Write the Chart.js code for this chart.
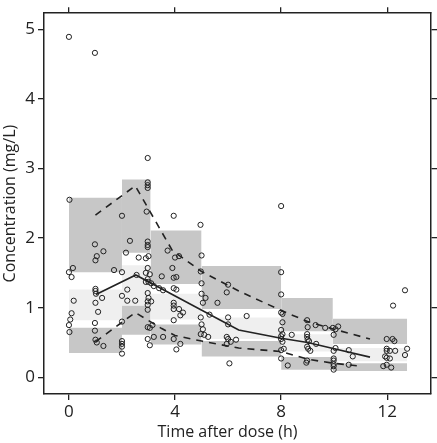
<!DOCTYPE html>
<html><head><meta charset="utf-8">
<script src="https://cdn.jsdelivr.net/npm/chart.js@4/dist/chart.umd.min.js"></script>
<style>html,body{margin:0;padding:0;background:#fff}#wrap{width:437px;height:443px}</style>
</head><body><div id="wrap"><canvas id="c" width="437" height="443"></canvas></div>
<script>
// ---- data ----
const xTicks = [0, 4, 8, 12];
const yTicks = [0, 1, 2, 3, 4, 5];
const binEdges = [0, 2, 3.08, 5.0, 8.0, 9.95, 12.75];
const upperHi = [2.58, 2.84, 2.11, 1.60, 1.14, 0.84];
const upperLo = [1.51, 1.79, 1.34, 0.98, 0.66, 0.48];
const midHi   = [1.26, 1.61, 1.20, 0.86, 0.62, 0.42];
const midLo   = [0.82, 1.03, 0.83, 0.55, 0.37, 0.23];
const lowHi   = [0.71, 1.03, 0.76, 0.52, 0.29, 0.20];
const lowLo   = [0.35, 0.61, 0.47, 0.30, 0.11, 0.09];

const medianTime = [1.02, 2.52, 6.4, 8.0, 9.0, 10.0, 11.35];
const medianConc = [1.19, 1.47, 0.68, 0.56, 0.50, 0.41, 0.29];
const p95Time = [1.0, 2.5, 3.9, 5.0, 6.4, 8.0, 9.0, 10.0, 11.35];
const p95Conc = [2.33, 2.75, 1.82, 1.52, 1.24, 0.96, 0.80, 0.69, 0.55];
const p5Time = [1.0, 2.5, 3.5, 4.0, 5.0, 6.4, 8.0, 9.0, 10.0, 11.0];
const p5Conc = [0.51, 0.93, 0.70, 0.60, 0.52, 0.42, 0.37, 0.26, 0.20, 0.16];

const obsTime = [
 0,0.02,0.15,0,0.1,0.18,0.1,0.05,0,0.02,
 0.98,0.98,1.05,1,1.3,1,1,1.02,1.25,1,1.1,0.98,0.98,1,1.05,1.3,
 1.7,2,2,2.15,2.3,2.63,2.9,2.55,2.2,2,2.2,2.5,2,2,2,2,2,
 2.97,2.97,2.97,2.97,2.93,2.97,2.97,2.97,3.0,2.97,2.9,3.05,2.97,2.9,3.0,3.1,3.2,3.4,3.55,2.97,3.0,2.97,3.1,2.97,2.97,2.97,3.05,3.15,2.97,3.05,3.2,3.55,3.5,
 3.95,3.72,4.0,4.15,3.9,3.95,4.05,3.95,4.05,3.95,3.95,3.95,4.15,4.3,4.2,3.95,3.95,4.05,4.2,
 4.96,5.0,4.97,5.0,5.0,5.15,5.05,5.3,4.97,5.0,5.05,4.97,5.1,5.25,
 5.6,6.0,5.95,6.0,6.0,5.95,6.0,6.1,6.3,5.95,6.05,6.7,
 8.0,8.0,8.0,8.0,8.05,8.05,8.0,8.05,8.0,8.0,8.05,8.0,8.1,8.0,8.25,8.4,
 8.98,9.0,8.98,8.98,9.0,9.05,9.3,8.98,9.02,9.1,8.98,8.95,9.32,9.66,
 9.95,10.05,10.15,9.98,10.05,9.98,9.98,9.98,9.98,9.98,9.98,10.55,10.7,10.55,
 12.67,12.22,11.98,12.2,12.27,11.98,12.1,11.98,12.3,12.75,12.67,11.92,11.98,12.1,11.85,11.98,12.15
];
const obsConc = [
 4.89,2.55,1.57,1.51,1.44,1.10,0.92,0.83,0.75,0.65,
 4.66,1.91,1.74,1.68,1.81,1.27,1.24,1.20,1.14,1.07,0.94,0.78,0.67,0.54,0.50,0.45,
 1.54,1.51,2.32,1.79,1.96,1.72,1.71,1.47,1.26,1.17,1.10,1.10,0.80,0.52,0.48,0.44,0.34,
 3.15,2.80,2.76,2.72,2.38,1.95,1.90,1.87,1.74,1.57,1.50,1.48,1.41,1.37,1.37,1.35,1.31,1.28,1.25,1.21,1.14,1.09,1.09,1.04,0.97,0.72,0.71,0.75,0.55,0.46,0.58,0.58,1.45,
 2.32,1.82,1.72,1.74,1.57,1.43,1.44,1.28,1.26,1.07,1.03,0.98,0.98,0.93,0.89,0.82,0.55,0.40,0.48,
 2.19,1.75,1.52,1.35,1.20,1.14,1.07,0.90,0.86,0.76,0.69,0.62,0.61,0.58,
 1.07,1.33,1.22,0.86,0.76,0.58,0.55,0.51,0.54,0.48,0.20,0.88,
 2.46,1.51,1.19,0.93,0.91,0.79,0.68,0.62,0.59,0.55,0.51,0.39,0.41,0.27,0.17,0.61,
 0.82,0.72,0.62,0.58,0.54,0.52,0.75,0.44,0.41,0.38,0.24,0.21,0.48,0.71,
 0.71,0.69,0.73,0.61,0.42,0.38,0.27,0.24,0.19,0.16,0.11,0.39,0.30,0.18,
 1.25,1.03,0.55,0.55,0.52,0.41,0.38,0.38,0.38,0.41,0.32,0.30,0.28,0.27,0.16,0.18,0.14
];
const xTitle = 'Time after dose (h)';
const yTitle = 'Concentration (mg/L)';

// ---- styling ----
const DARK = '#c7c7c7', LIGHT = '#efefef', INK = '#222';
const FONT = '"Open Sans", "DejaVu Sans", sans-serif';
const X_MIN = -0.94, X_MAX = 13.65, Y_MIN = -0.24, Y_MAX = 5.23;

const zip = (xs, ys) => xs.map((x, i) => ({x, y: ys[i]}));

const datasets = [];
datasets.push({
  label: 'obs', data: zip(obsTime, obsConc), showLine: false, order: 0,
  pointRadius: 2.6, pointBorderWidth: 1, pointBorderColor: INK, pointBackgroundColor: 'rgba(255,255,255,0)', pointHoverRadius: 2.6
});
datasets.push({label: 'median', data: zip(medianTime, medianConc), borderColor: INK, borderWidth: 1.6, pointRadius: 0, fill: false, order: 1, tension: 0});
datasets.push({label: 'p95', data: zip(p95Time, p95Conc), borderColor: INK, borderWidth: 1.6, borderDash: [7, 6], pointRadius: 0, fill: false, order: 1, tension: 0});
datasets.push({label: 'p5', data: zip(p5Time, p5Conc), borderColor: INK, borderWidth: 1.6, borderDash: [7, 6], pointRadius: 0, fill: false, order: 1, tension: 0});

function addBand(hi, lo, color) {
  for (let i = 0; i < hi.length; i++) {
    const x0 = binEdges[i], x1 = binEdges[i + 1];
    datasets.push({data: [{x: x0, y: hi[i]}, {x: x1, y: hi[i]}], borderWidth: 0, pointRadius: 0, fill: false, order: 10});
    datasets.push({data: [{x: x0, y: lo[i]}, {x: x1, y: lo[i]}], borderWidth: 0, pointRadius: 0, fill: '-1', backgroundColor: color, order: 10});
  }
}
addBand(upperHi, upperLo, DARK);
addBand(midHi, midLo, LIGHT);
addBand(lowHi, lowLo, DARK);

const grid = {drawOnChartArea: false, drawTicks: true, tickLength: 6, color: INK, lineWidth: 1.3};
const border = {display: true, color: INK, width: 1.5};
const setTicks = vals => s => { s.ticks = vals.map(v => ({value: v})); };

// x-axis title, drawn slightly left of the plot centre as in the original
const xTitlePlugin = {
  id: 'xTitle',
  afterDraw(chart) {
    const {ctx, chartArea} = chart;
    ctx.save();
    ctx.fillStyle = INK;
    ctx.font = '16px ' + FONT;
    ctx.textAlign = 'center';
    ctx.textBaseline = 'middle';
    ctx.fillText(xTitle, (chartArea.left + chartArea.right) / 2 - 10, chart.height - 11);
    ctx.restore();
  }
};

new Chart(document.getElementById('c'), {
  type: 'line',
  data: {datasets},
  plugins: [xTitlePlugin],
  options: {
    responsive: false, animation: false,
    layout: {padding: 0},
    plugins: {legend: {display: false}, tooltip: {enabled: false}},
    scales: {
      x: {type: 'linear', position: 'bottom', min: X_MIN, max: X_MAX, afterBuildTicks: setTicks(xTicks),
          grid, border, ticks: {color: INK, font: {family: FONT, size: 17}, padding: 2},
          title: {display: false},
          afterFit: s => { s.height = 49; }},
      x2: {type: 'linear', position: 'top', min: X_MIN, max: X_MAX, afterBuildTicks: setTicks(xTicks),
          grid, border, ticks: {display: false}, afterFit: s => { s.height = 6; }},
      y: {type: 'linear', position: 'left', min: Y_MIN, max: Y_MAX, afterBuildTicks: setTicks(yTicks),
          grid, border, ticks: {color: INK, font: {family: FONT, size: 17}, padding: 3},
          title: {display: true, text: yTitle, color: INK, font: {family: FONT, size: 16}, padding: {top: 1, bottom: 0}},
          afterFit: s => { s.width = 44; }},
      y2: {type: 'linear', position: 'right', min: Y_MIN, max: Y_MAX, afterBuildTicks: setTicks(yTicks),
          grid, border, ticks: {display: false}, afterFit: s => { s.width = 6; }}
    }
  }
});
</script></body></html>
